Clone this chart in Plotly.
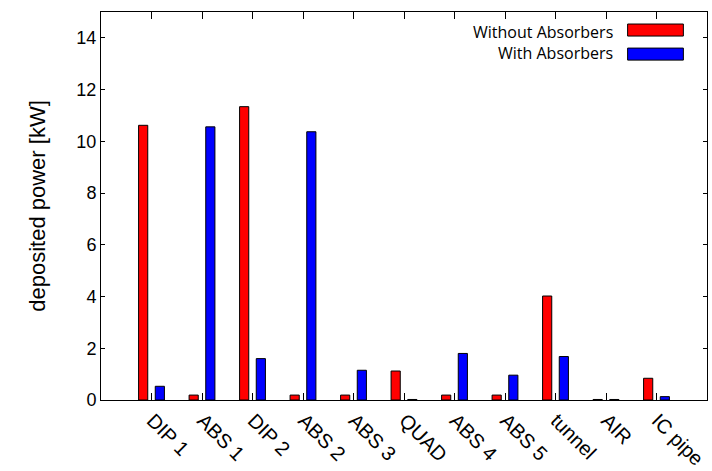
import plotly.graph_objects as go

categories = ["DIP 1", "ABS 1", "DIP 2", "ABS 2", "ABS 3", "QUAD", "ABS 4", "ABS 5", "tunnel", "AIR", "IC pipe"]
without_abs = [10.62, 0.19, 11.34, 0.19, 0.19, 1.12, 0.19, 0.19, 4.02, 0.02, 0.84]
with_abs = [0.53, 10.56, 1.60, 10.37, 1.15, 0.02, 1.80, 0.96, 1.68, 0.02, 0.13]
series_names = ["Without Absorbers", "With Absorbers"]
series_colors = ["#ff0000", "#0000ff"]
y_ticks = [0, 2, 4, 6, 8, 10, 12, 14]

fig = go.Figure()
for name, vals, col in zip(series_names, [without_abs, with_abs], series_colors):
    fig.add_trace(go.Bar(x=categories, y=vals, name=name,
                         marker=dict(color=col, line=dict(color="black", width=1)),
                         showlegend=False))

font_main = "Liberation Sans"
fig.update_layout(
    width=712, height=471,
    margin=dict(l=101, r=4.5, t=12, b=71),
    paper_bgcolor="white", plot_bgcolor="white",
    barmode="group", bargap=0.34, bargroupgap=0.45,
    font=dict(family=font_main, size=19, color="black"),
)
fig.update_xaxes(
    range=[-1, len(categories)], tickangle=45, automargin=False,
    showline=True, linecolor="black", linewidth=1, mirror="ticks",
    ticks="inside", ticklen=7, tickcolor="black", tickwidth=1,
    showgrid=False, tickfont=dict(family=font_main, size=20), ticklabelshift=1,
)
fig.update_yaxes(
    range=[0, 15], tickvals=y_ticks, ticktext=[str(v) for v in y_ticks], automargin=False,
    showline=True, linecolor="black", linewidth=1, mirror="ticks",
    ticks="inside", ticklen=4, tickcolor="black", tickwidth=1,
    showgrid=False, zeroline=False, tickfont=dict(family=font_main, size=18),
    title=dict(text="deposited power [kW]", font=dict(family=font_main, size=22), standoff=24),
)

# legend (text left of swatch, as in the reference)
leg_font = dict(family="Open Sans", size=16, color="black")
leg_rows = [(0.949, 0.938, 0.969), (0.8935, 0.876, 0.907)]
for name, col, (ty, y0, y1) in zip(series_names, series_colors, leg_rows):
    fig.add_annotation(xref="paper", yref="paper", x=0.849, y=ty, text=name,
                       showarrow=False, xanchor="right", yanchor="middle", font=leg_font)
    fig.add_shape(type="rect", xref="paper", yref="paper", x0=0.869, x1=0.961, y0=y0, y1=y1,
                  fillcolor=col, line=dict(color="black", width=1))

fig.write_html("out.html")
